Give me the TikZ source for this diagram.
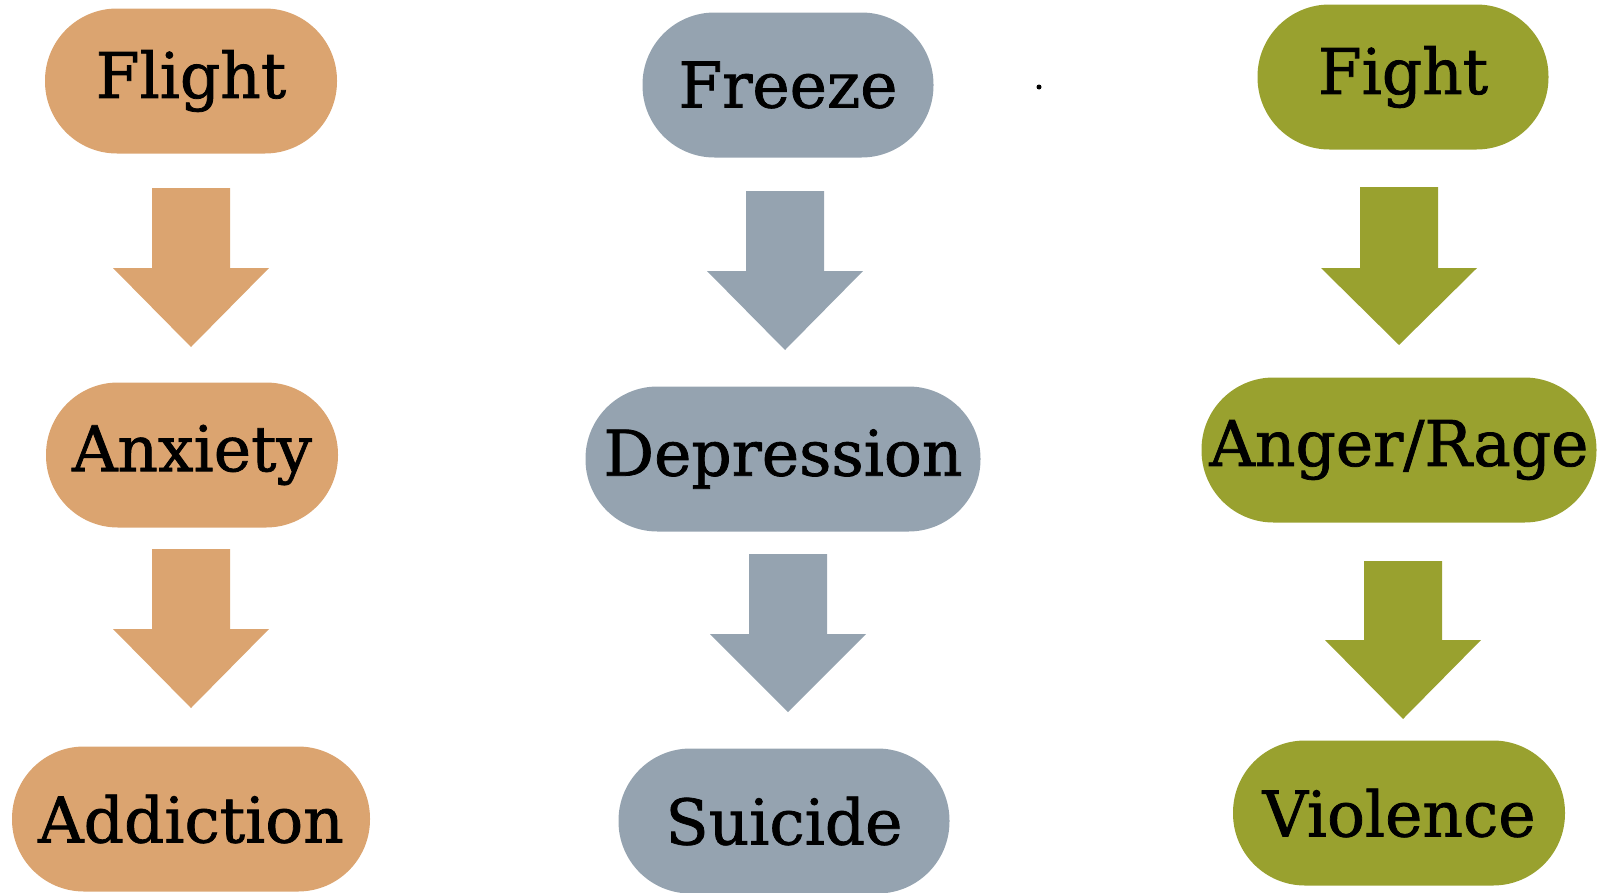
\documentclass[tikz,border=0pt]{standalone}
\usepackage{fontspec}
\setmainfont{DejaVu Serif}
\newfontfamily\pillfont{DejaVu Serif}[FakeBold=1.2]
\definecolor{flightc}{HTML}{DBA470}
\definecolor{freezec}{HTML}{95A3B0}
\definecolor{fightc}{HTML}{99A12F}
\newcommand\blockarr[5]{%
  \fill[#1] (#2-39,#3) -- (#2+39,#3) -- (#2+39,#4) -- (#2+78,#4) -- (#2,#5) -- (#2-78,#4) -- (#2-39,#4) -- cycle;}
\begin{document}
\begin{tikzpicture}[x=1pt,y=-1pt,
  pill/.style={rectangle, rounded corners=72pt, minimum height=145pt, inner sep=0pt,
    font=\pillfont\fontsize{63}{70}\selectfont, text=black}]
\useasboundingbox (0,0) rectangle (1604,892);
% column 1
\node[pill, fill=flightc, minimum width=292pt] (flight) at (191,81) {Flight};
\node[pill, fill=flightc, minimum width=292pt] (anxiety) at (192,455) {Anxiety};
\node[pill, fill=flightc, minimum width=358pt] (addiction) at (191,819) {Addiction};
\blockarr{flightc}{191}{188}{268}{347}
\blockarr{flightc}{191}{549}{629}{708}
% column 2
\node[pill, fill=freezec, minimum width=291pt] (freeze) at (788,85) {Freeze};
\node[pill, fill=freezec, minimum width=395pt] (depression) at (783,459) {Depression};
\node[pill, fill=freezec, minimum width=331pt] (suicide) at (784,821) {Suicide};
\blockarr{freezec}{785}{191}{271}{350}
\blockarr{freezec}{788}{554}{634}{712}
% column 3
\node[pill, fill=fightc, minimum width=291pt] (fight) at (1403,77) {Fight};
\node[pill, fill=fightc, minimum width=395pt] (anger) at (1399,450) {Anger/Rage};
\node[pill, fill=fightc, minimum width=332pt] (violence) at (1399,813) {Violence};
\blockarr{fightc}{1399}{187}{268}{345}
\blockarr{fightc}{1403}{561}{640}{719}
% stray dot
\fill (1039,87) circle (2.5pt);
\end{tikzpicture}
\end{document}
